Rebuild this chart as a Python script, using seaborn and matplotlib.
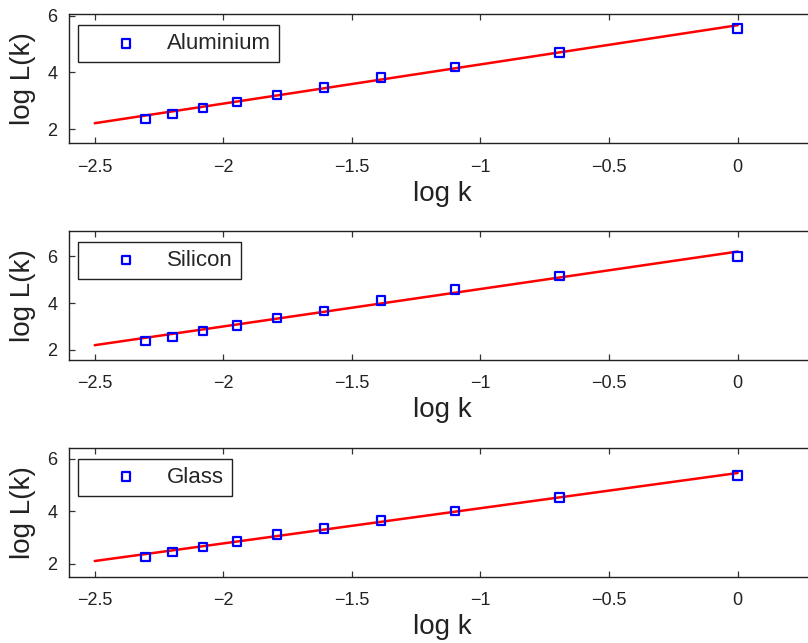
import numpy as np
import pandas as pd
import matplotlib
matplotlib.use('Agg')
import matplotlib.pyplot as plt
import seaborn as sns

sns.set_theme(style='white')
plt.rcParams['font.family'] = ['Liberation Sans', 'DejaVu Sans']
plt.rcParams['axes.unicode_minus'] = True

# log k values (k = 1/10 ... 1)
log_k = [-2.303, -2.197, -2.079, -1.946, -1.792, -1.609, -1.386, -1.099, -0.693, 0.0]

materials = ['Aluminium', 'Silicon', 'Glass']
log_L_aluminium = [2.36, 2.54, 2.74, 2.96, 3.21, 3.47, 3.82, 4.19, 4.70, 5.54]
log_L_silicon = [2.36, 2.54, 2.79, 3.03, 3.36, 3.65, 4.12, 4.59, 5.16, 5.99]
log_L_glass = [2.25, 2.44, 2.63, 2.85, 3.10, 3.33, 3.65, 4.00, 4.51, 5.36]

# fitted lines, read at the two ends
fit_x = [-2.5, 0.0]
fit_aluminium = [2.21, 5.66]
fit_silicon = [2.19, 6.21]
fit_glass = [2.10, 5.45]

x_ticks = [-2.5, -2, -1.5, -1, -0.5, 0]
y_ticks = [2, 4, 6]
y_limits = [(1.5, 6.05), (1.55, 7.1), (1.5, 6.42)]

series = [log_L_aluminium, log_L_silicon, log_L_glass]
fits = [fit_aluminium, fit_silicon, fit_glass]

fig = plt.figure(figsize=(8.08, 6.43), dpi=100)
bottoms = [0.777, 0.440, 0.103]

for i, name in enumerate(materials):
    ax = fig.add_axes([0.0854, bottoms[i], 0.923, 0.201])
    pts = pd.DataFrame({'log k': log_k, 'log L(k)': series[i]})
    line = pd.DataFrame({'log k': fit_x, 'log L(k)': fits[i]})

    sns.lineplot(data=line, x='log k', y='log L(k)', ax=ax,
                 color='#ff0000', linewidth=1.8, zorder=2)
    sns.scatterplot(data=pts, x='log k', y='log L(k)', ax=ax, label=name,
                    marker='s', s=38, facecolors='none', edgecolor='#0000ff',
                    linewidth=1.6, zorder=3)

    ax.set_xlim(-2.6, 0.3)
    ax.set_ylim(*y_limits[i])
    ax.set_xticks(x_ticks)
    ax.set_xticklabels(['\u22122.5', '\u22122', '\u22121.5', '\u22121', '\u22120.5', '0'])
    ax.set_yticks(y_ticks)
    ax.tick_params(direction='in', length=4.5, width=0.9, colors='#333333',
                   labelcolor='#222222', labelsize=13,
                   top=True, right=True, bottom=True, left=True)
    ax.tick_params(axis='x', pad=11)
    ax.tick_params(axis='y', pad=8.5)
    for sp in ax.spines.values():
        sp.set_color('#222222')
        sp.set_linewidth(1.0)
    ax.set_xlabel('log k', fontsize=20, color='#222222', labelpad=3.5)
    ax.set_ylabel('log L(k)', fontsize=20, color='#222222', labelpad=8)

    leg = ax.legend(loc='upper left', bbox_to_anchor=(0.012, 0.915),
                    borderaxespad=0, fontsize=16, frameon=True, fancybox=False,
                    handlelength=3.6, handletextpad=0.05, borderpad=0.36,
                    markerscale=1.0)
    leg.get_frame().set_edgecolor('#222222')
    leg.get_frame().set_linewidth(1.0)
    leg.get_frame().set_alpha(1)

fig.savefig('out.png', dpi=100)
